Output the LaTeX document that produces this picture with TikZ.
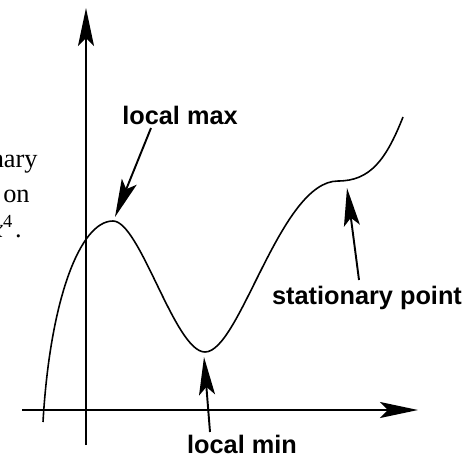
\documentclass[tikz,border=0pt]{standalone}
\usepackage{fontspec}
\setmainfont{Liberation Serif}
\newfontfamily\lblfont{Liberation Sans}
\usetikzlibrary{arrows.meta}

\begin{document}
\begin{tikzpicture}[
  x=0.2mm, y=-0.2mm,
  every node/.style={text=black},
  head/.style={-{Stealth[length=7.6mm,width=3.2mm,inset=1.6mm]}},
  axis/.style={head, line width=1.1pt},
  ptr/.style={head, line width=1.1pt},
  graph/.style={line width=0.9pt},
  lbl/.style={font=\lblfont\bfseries\fontsize{14.4}{17}\selectfont, inner sep=0pt},
  cut/.style={font=\fontsize{15}{18}\selectfont, inner sep=0pt, anchor=base east},
]
\useasboundingbox (0,0) rectangle (473,457);
\clip (0,0) rectangle (473,457);

% ---------------- AXES ----------------
\coordinate (xL) at (22,410);
\coordinate (xR) at (418,410);
\coordinate (yB) at (86,445);
\coordinate (yT) at (86,8);
\draw[axis] (xL) -- (xR);
\draw[axis] (yB) -- (yT);

% ---------------- CURVE ----------------
\coordinate (maxpt) at (113,221);
\coordinate (minpt) at (205,352);
\coordinate (statpt) at (338,181);
\draw[graph] (43,422) .. controls (50,300) and (80,221) .. (maxpt)
  .. controls (140,221) and (175,352) .. (minpt)
  .. controls (240,352) and (280,181) .. (statpt)
  .. controls (370,181) and (386,160) .. (403,117);

% ---------------- LABELS ----------------
\node[lbl, anchor=base] (maxlbl) at (180,125) {local max};
\node[lbl, anchor=base] (statlbl) at (367,304) {stationary point};
\node[lbl, anchor=base] (minlbl) at (242,453) {local min};

% ---------------- POINTERS ----------------
\coordinate (maxtail) at (151,128);
\coordinate (stattail) at (359,280);
\coordinate (mintail) at (210,432);
\draw[ptr] (maxtail) -- ([shift={(2,-4)}]maxpt);
\draw[ptr] (stattail) -- (347,188);
\draw[ptr] (mintail) -- (204,357);

% ---------------- CUT-OFF TEXT (left edge) ----------------
\node[cut] (txtA) at (38,167) {nary};
\node[cut] (txtB) at (30,202) {on};
\node[cut] (txtC) at (22,237) {\textit{x}\textsuperscript{4}\kern1pt.};
\end{tikzpicture}
\end{document}
